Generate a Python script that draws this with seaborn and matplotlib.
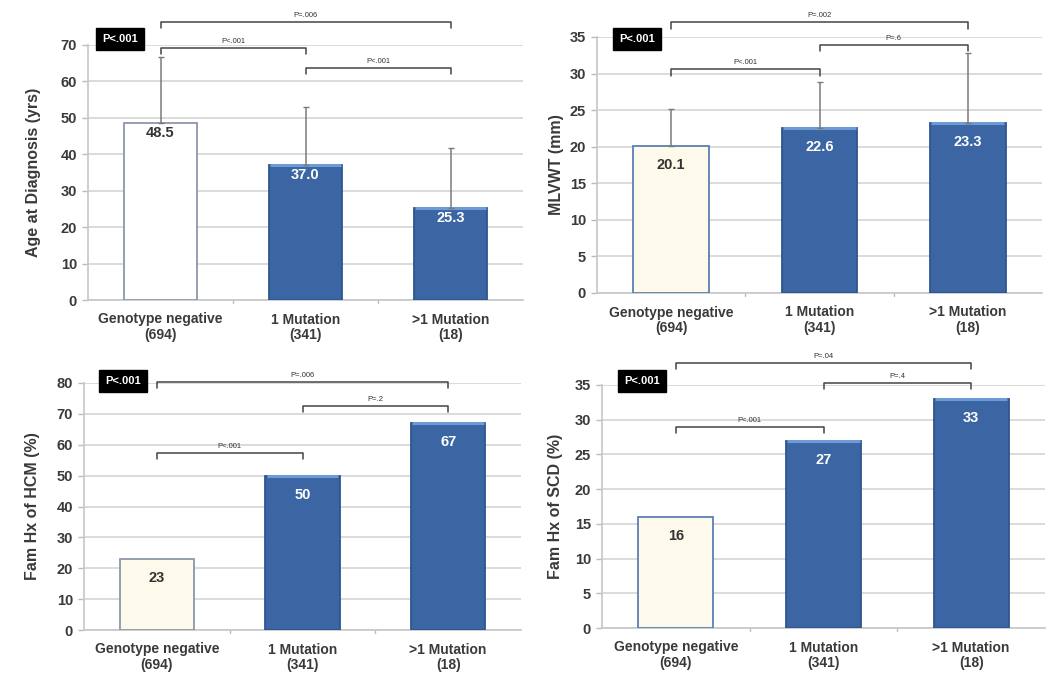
import matplotlib
matplotlib.use("Agg")
import matplotlib.pyplot as plt
import seaborn as sns
import pandas as pd
import numpy as np

# ---- data ----
categories = ["Genotype negative\n(694)", "1 Mutation\n(341)", ">1 Mutation\n(18)"]
age_values = [48.5, 37.0, 25.3]
age_sd = [18.3, 16.0, 16.5]
mlvwt_values = [20.1, 22.6, 23.3]
mlvwt_sd = [5.1, 6.3, 9.5]
hcm_values = [23, 50, 67]
scd_values = [16, 27, 33]
value_labels_age = ["48.5", "37.0", "25.3"]
value_labels_mlvwt = ["20.1", "22.6", "23.3"]
value_labels_hcm = ["23", "50", "67"]
value_labels_scd = ["16", "27", "33"]
# brackets: (i, j, height, label)
age_brackets = [(0, 2, 76.3, "P=.006"), (0, 1, 69.2, "P<.001"), (1, 2, 63.7, "P<.001")]
mlvwt_brackets = [(0, 2, 37.0, "P=.002"), (1, 2, 33.9, "P=.6"), (0, 1, 30.6, "P<.001")]
hcm_brackets = [(0, 2, 80.3, "P=.006"), (1, 2, 72.5, "P=.2"), (0, 1, 57.3, "P<.001")]
scd_brackets = [(0, 2, 38.2, "P=.04"), (1, 2, 35.3, "P=.4"), (0, 1, 29.0, "P<.001")]

sns.set_theme(style="white")
plt.rcParams['font.family'] = ['Liberation Sans', 'DejaVu Sans']

fig = plt.figure(figsize=(10.5, 6.81), dpi=100)
W, H = 1050, 681

def ax_at(left, right, top, bottom):
    return fig.add_axes([left / W, 1 - bottom / H, (right - left) / W, (bottom - top) / H])

BLUE = "#3B66A3"
BLUE_EDGE = "#2D5690"
CREAM = "#FDFAEC"

def panel(ax, values, sd, ylim, yticks, ylabel, first_fill, first_edge, vlabels,
          brackets, box_xy, label_offset_px, ylabelpad):
    df = pd.DataFrame({"cat": categories, "val": values})
    sns.barplot(data=df, x="cat", y="val", hue="cat", ax=ax, legend=False,
                palette=[first_fill, BLUE, BLUE], width=0.51, zorder=3, saturation=1,
                linewidth=1.3)
    for p, ec in zip(ax.patches, [first_edge, BLUE_EDGE, BLUE_EDGE]):
        p.set_edgecolor(ec)
    for k, p in enumerate(ax.patches):
        if k > 0:
            x0 = p.get_x(); w = p.get_width(); h = p.get_height()
            ax.plot([x0 + 0.01, x0 + w - 0.01], [h, h], color="#6E9BD3", lw=2.2,
                    zorder=4, solid_capstyle="butt")
    if sd is not None:
        ax.errorbar(range(3), values, yerr=[[0, 0, 0], sd], fmt="none",
                    ecolor="#7A7A7A", elinewidth=1.1, capsize=2.5, capthick=1.0, zorder=5)
    ax.set_xlim(-0.5, 2.5)
    ax.set_ylim(*ylim)
    ax.set_yticks(yticks)
    ax.set_yticklabels([str(t) for t in yticks], fontsize=10.5, fontweight="bold", color="#3A3A3A")
    ax.set_xticks(range(3))
    ax.set_xticklabels(categories, fontsize=10, fontweight="bold", color="#3A3A3A",
                       linespacing=1.1)
    ax.tick_params(axis="x", length=0, pad=9)
    ax.tick_params(axis="y", length=4, color="#BBBBBB", width=1, left=True, pad=4)
    ax.set_xlabel("")
    ax.set_ylabel(ylabel, fontsize=11.5, fontweight="bold", color="#3A3A3A", labelpad=ylabelpad)
    ax.grid(axis="y", color="#D4D4D4", lw=1.2, zorder=0)
    for s in ["top", "right"]:
        ax.spines[s].set_visible(False)
    ax.spines["left"].set_color("#C8C8C8")
    ax.spines["bottom"].set_color("#C8C8C8")
    for xs in [0.5, 1.5]:
        ax.plot([xs, xs], [0, -0.012 * (ylim[1] - ylim[0])], color="#BBBBBB", lw=1,
                clip_on=False)
    for k, (v, lab) in enumerate(zip(values, vlabels)):
        col = "#333333" if k == 0 else "white"
        ax.annotate(lab, (k, v), xytext=(0, -label_offset_px), textcoords="offset pixels",
                    ha="center", va="top", fontsize=10.5, fontweight="bold", color=col, zorder=6)
    tick = 0.025 * (ylim[1] - ylim[0])
    for (i, j, hgt, lab) in brackets:
        ax.plot([i, i, j, j], [hgt - tick, hgt, hgt, hgt - tick], color="#444444", lw=1.1,
                clip_on=False, zorder=6)
        ax.text((i + j) / 2, hgt + 0.012 * (ylim[1] - ylim[0]), lab, ha="center", va="bottom",
                fontsize=5.5, color="#333333", clip_on=False)
    ax.text(box_xy[0], box_xy[1], "P<.001", transform=ax.transAxes, ha="center", va="center",
            fontsize=8, fontweight="bold", color="white", zorder=7, clip_on=False,
            bbox=dict(boxstyle="square,pad=0.55", fc="black", ec="black"))

ax1 = ax_at(88, 523, 45, 300)
panel(ax1, age_values, age_sd, (0, 70), list(range(0, 71, 10)), "Age at Diagnosis (yrs)",
      "white", "#8C97AA", value_labels_age, age_brackets, (0.074, 1.024), 3, 14)

ax2 = ax_at(597, 1042, 37, 293)
panel(ax2, mlvwt_values, mlvwt_sd, (0, 35), list(range(0, 36, 5)), "MLVWT (mm)",
      CREAM, "#5C7FB3", value_labels_mlvwt, mlvwt_brackets, (0.09, 0.992), 12, 4)

ax3 = ax_at(84, 521, 383, 630)
panel(ax3, hcm_values, None, (0, 80), list(range(0, 81, 10)), "Fam Hx of HCM (%)",
      CREAM, "#8C97AA", value_labels_hcm, hcm_brackets, (0.089, 1.008), 12, 12)

ax4 = ax_at(602, 1045, 385, 628)
panel(ax4, scd_values, None, (0, 35), list(range(0, 36, 5)), "Fam Hx of SCD (%)",
      CREAM, "#5C7FB3", value_labels_scd, scd_brackets, (0.09, 1.016), 12, 8)

fig.savefig("out.png", dpi=100)
